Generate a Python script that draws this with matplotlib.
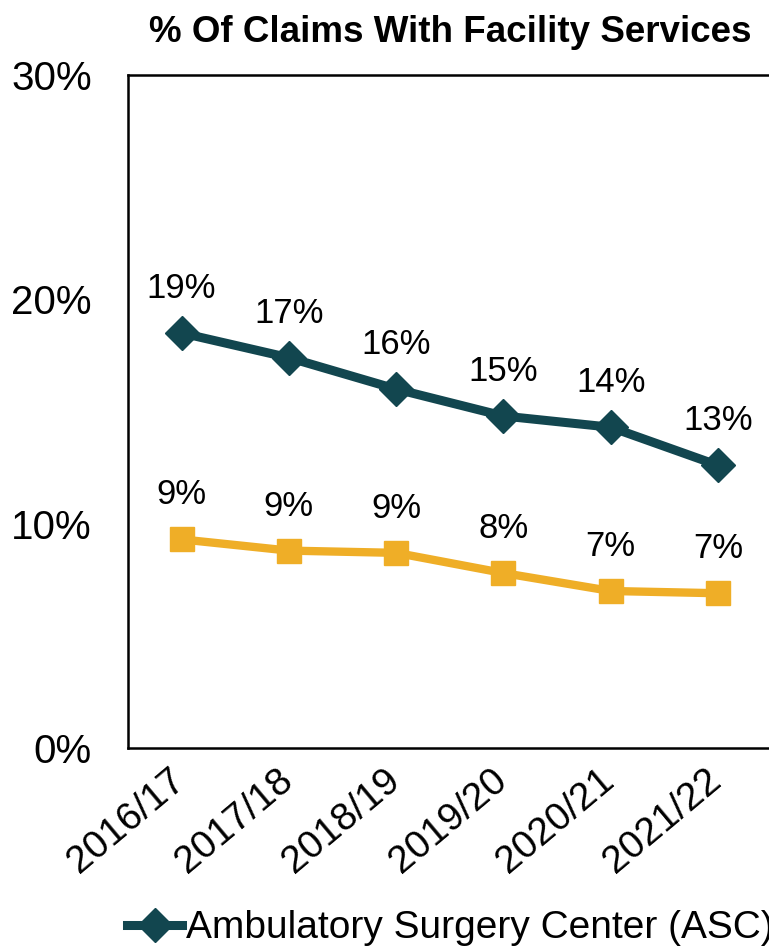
import matplotlib.pyplot as plt

years = ['2016/17', '2017/18', '2018/19', '2019/20', '2020/21', '2021/22']
asc = [18.5, 17.4, 16.0, 14.8, 14.3, 12.6]
other = [9.3, 8.8, 8.7, 7.8, 7.0, 6.9]
asc_labels = ['19%', '17%', '16%', '15%', '14%', '13%']
other_labels = ['9%', '9%', '9%', '8%', '7%', '7%']

teal = '#12464F'
gold = '#EFAE27'

plt.rcParams['font.family'] = ['Liberation Sans', 'DejaVu Sans']

fig = plt.figure(figsize=(7.69, 9.47), dpi=100)
ax = fig.add_axes([0.1664, 0.2101, 0.837, 0.7107])

x = list(range(len(years)))
ax.plot(x, asc, color=teal, lw=6.5, marker='D', ms=17, label='Ambulatory Surgery Center (ASC)')
ax.plot(x, other, color=gold, lw=6, marker='s', ms=17)

for i in x:
    ax.annotate(asc_labels[i], (i, asc[i]), xytext=(0, 32), textcoords='offset points',
                ha='center', va='center', fontsize=25)
    ax.annotate(other_labels[i], (i, other[i]), xytext=(0, 32), textcoords='offset points',
                ha='center', va='center', fontsize=25)
    # slanted year labels, drawn by hand so they can sit a bit left of the tick
    ax.annotate(years[i], (i, 0), xycoords=('data', 'axes fraction'), xytext=(-9, -10),
                textcoords='offset points', ha='right', va='top', rotation=40,
                rotation_mode='anchor', fontsize=28)

ax.set_xlim(-0.5, 5.5)
ax.set_ylim(0, 30)
ax.set_yticks([0, 10, 20, 30])
ax.set_yticklabels(['0%', '10%', '20%', '30%'], fontsize=29)
ax.set_xticks(x)
ax.set_xticklabels([])
ax.tick_params(axis='y', length=0, pad=26)
ax.tick_params(axis='x', length=0)
for s in ['left', 'bottom', 'top', 'right']:
    ax.spines[s].set_linewidth(1.8)

ax.set_title('% Of Claims With Facility Services', fontsize=26.5, fontweight='bold', pad=24)

ax.legend(loc='center left', bbox_to_anchor=(-0.025, -0.268), frameon=False,
          fontsize=28, handlelength=1.4, handletextpad=0.1, borderaxespad=0)

plt.savefig('out.png', dpi=100)
